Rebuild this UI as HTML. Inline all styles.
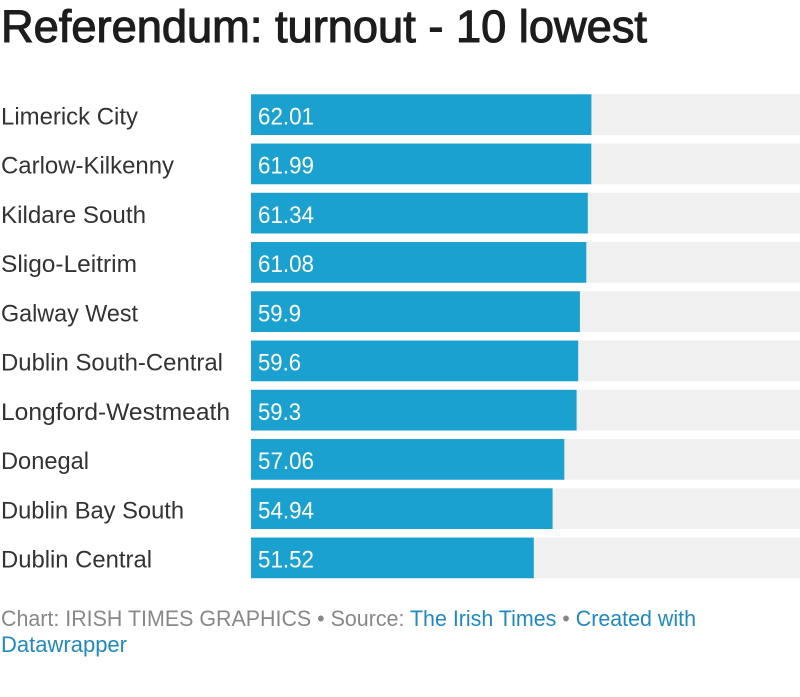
<!DOCTYPE html>
<html>
<head>
<meta charset="utf-8">
<style>
html,body{margin:0;padding:0;background:#fff;}
svg{display:block;}
text{font-family:"Liberation Sans",Arial,sans-serif;}
</style>
</head>
<body>
<svg width="800" height="697" viewBox="0 0 800 697" xmlns="http://www.w3.org/2000/svg">
<rect x="0" y="0" width="800" height="697" fill="#fff"/>
<text x="1" y="42" font-size="45" fill="#1d1d1d" stroke="#1d1d1d" stroke-width="1.1" textLength="646" lengthAdjust="spacingAndGlyphs">Referendum: turnout - 10 lowest</text>

<g fill="#f0f0f0">
<rect x="251" y="94.3" width="549" height="40.7"/>
<rect x="251" y="143.55" width="549" height="40.7"/>
<rect x="251" y="192.8" width="549" height="40.7"/>
<rect x="251" y="242.05" width="549" height="40.7"/>
<rect x="251" y="291.3" width="549" height="40.7"/>
<rect x="251" y="340.55" width="549" height="40.7"/>
<rect x="251" y="389.8" width="549" height="40.7"/>
<rect x="251" y="439.05" width="549" height="40.7"/>
<rect x="251" y="488.3" width="549" height="40.7"/>
<rect x="251" y="537.55" width="549" height="40.7"/>
</g>
<g fill="#1aa1cf">
<rect x="251" y="94.3" width="340.4" height="40.7"/>
<rect x="251" y="143.55" width="340.3" height="40.7"/>
<rect x="251" y="192.8" width="336.8" height="40.7"/>
<rect x="251" y="242.05" width="335.3" height="40.7"/>
<rect x="251" y="291.3" width="328.9" height="40.7"/>
<rect x="251" y="340.55" width="327.2" height="40.7"/>
<rect x="251" y="389.8" width="325.6" height="40.7"/>
<rect x="251" y="439.05" width="313.3" height="40.7"/>
<rect x="251" y="488.3" width="301.6" height="40.7"/>
<rect x="251" y="537.55" width="282.8" height="40.7"/>
</g>

<g font-size="24" fill="#333">
<text x="1" y="124.3" textLength="137" lengthAdjust="spacingAndGlyphs">Limerick City</text>
<text x="1" y="173.55" textLength="173" lengthAdjust="spacingAndGlyphs">Carlow-Kilkenny</text>
<text x="1" y="222.8" textLength="145" lengthAdjust="spacingAndGlyphs">Kildare South</text>
<text x="1" y="272.05" textLength="136" lengthAdjust="spacingAndGlyphs">Sligo-Leitrim</text>
<text x="1" y="321.3" textLength="137" lengthAdjust="spacingAndGlyphs">Galway West</text>
<text x="1" y="370.55" textLength="222" lengthAdjust="spacingAndGlyphs">Dublin South-Central</text>
<text x="1" y="419.8" textLength="229" lengthAdjust="spacingAndGlyphs">Longford-Westmeath</text>
<text x="1" y="469.05" textLength="88" lengthAdjust="spacingAndGlyphs">Donegal</text>
<text x="1" y="518.3" textLength="183" lengthAdjust="spacingAndGlyphs">Dublin Bay South</text>
<text x="1" y="567.55" textLength="151" lengthAdjust="spacingAndGlyphs">Dublin Central</text>
</g>

<g font-size="24" fill="#fff">
<text x="258" y="124.3" textLength="56" lengthAdjust="spacingAndGlyphs">62.01</text>
<text x="258" y="173.55" textLength="56" lengthAdjust="spacingAndGlyphs">61.99</text>
<text x="258" y="222.8" textLength="56" lengthAdjust="spacingAndGlyphs">61.34</text>
<text x="258" y="272.05" textLength="56" lengthAdjust="spacingAndGlyphs">61.08</text>
<text x="258" y="321.3" textLength="43" lengthAdjust="spacingAndGlyphs">59.9</text>
<text x="258" y="370.55" textLength="43" lengthAdjust="spacingAndGlyphs">59.6</text>
<text x="258" y="419.8" textLength="43" lengthAdjust="spacingAndGlyphs">59.3</text>
<text x="258" y="469.05" textLength="56" lengthAdjust="spacingAndGlyphs">57.06</text>
<text x="258" y="518.3" textLength="56" lengthAdjust="spacingAndGlyphs">54.94</text>
<text x="258" y="567.55" textLength="56" lengthAdjust="spacingAndGlyphs">51.52</text>
</g>

<text x="1" y="626" font-size="22" fill="#888" textLength="695" lengthAdjust="spacingAndGlyphs">Chart: IRISH TIMES GRAPHICS • Source: <tspan fill="#1f8ac0">The Irish Times</tspan> • <tspan fill="#1f8ac0">Created with</tspan></text>
<text x="1" y="652" font-size="22" fill="#1f8ac0" textLength="126" lengthAdjust="spacingAndGlyphs">Datawrapper</text>
</svg>
</body>
</html>
